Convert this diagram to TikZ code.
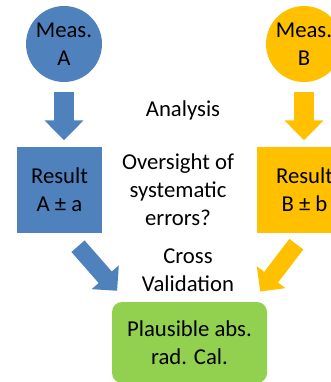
\documentclass[tikz,border=0pt]{standalone}
\usepackage{fontspec}
\setmainfont{Carlito}
\usetikzlibrary{arrows.meta,calc}

\definecolor{measblue}{HTML}{4F81BD}
\definecolor{measorange}{HTML}{FFC000}
\definecolor{calgreen}{HTML}{92D050}

\tikzset{
    meas/.style={circle, minimum size=76pt, inner sep=0pt},
    result/.style={rectangle, minimum size=85pt, inner sep=0pt},
    calbox/.style={rectangle, rounded corners=10pt, fill=calgreen, minimum width=155pt, minimum height=81pt},
    captext/.style={inner sep=0pt},
    fatdown/.style={line width=20pt, -{Triangle[width=38pt, length=20pt]}, shorten <=10pt, shorten >=7pt},
    fatdiag/.style={line width=17.5pt, -{Triangle[width=35pt, length=18pt]}},
}

\begin{document}
\begin{tikzpicture}[x=1pt, y=-1pt, every node/.style={font=\fontsize{22.7}{28}\selectfont, align=center}]
    \useasboundingbox (0,0) rectangle (331,382);
    \node[meas, fill=measblue]   (measA) at (64,44)  {Meas.\\A};
    \node[meas, fill=measorange] (measB) at (304,44) {Meas.\\B};
    \node[result, fill=measblue]   (resA) at (59.5,190)  {Result\\A ± a};
    \node[result, fill=measorange, minimum width=95pt] (resB) at (304.5,190) {Result\\B ± b};
    \node[calbox] (cal) at (189.5,342.5) {Plausible abs.\\rad. Cal.};
    \node[captext] (analysis)  at (183,110) {Analysis};
    \node[captext] (oversight) at (178,190) {Oversight of\\systematic\\errors?};
    \node[captext] (crossval)  at (188,270) {Cross\\Validation};
    % block arrows
    \draw[fatdown, measblue]   (measA.south) -- (measA.south |- resA.north);
    \draw[fatdown, measorange] (measB.south) -- (measB.south |- resB.north);
    \coordinate (tailA) at ($(resA.south)+(18.5,13.5)$);
    \coordinate (headA) at ($(cal.north west)+(5.3,-11)$);
    \coordinate (tailB) at ($(resB.south)+(-8.2,11.5)$);
    \coordinate (headB) at ($(cal.north east)+(-7,-10.3)$);
    \draw[fatdiag, measblue]   (tailA) -- (headA);
    \draw[fatdiag, measorange] (tailB) -- (headB);
\end{tikzpicture}
\end{document}
